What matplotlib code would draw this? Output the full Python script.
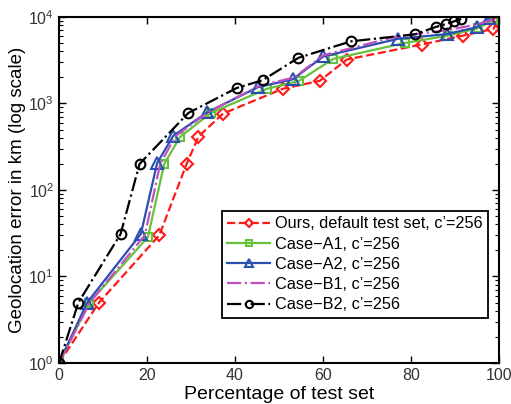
import matplotlib
matplotlib.use("Agg")
import matplotlib.pyplot as plt

plt.rcParams['font.family'] = ['Liberation Sans', 'DejaVu Sans']
plt.rcParams['mathtext.fontset'] = 'custom'
plt.rcParams['mathtext.rm'] = 'Liberation Sans'

# percentage of test set vs geolocation error (km)
ours_x = [0, 9.1, 22.8, 29.0, 31.7, 37.3, 50.8, 59.3, 65.4, 82.4, 91.9, 98.7, 100]
ours_y = [1, 5, 30, 200, 415, 765, 1475, 1830, 3220, 4800, 6100, 7280, 9130]

a1_x = [0, 6.9, 20.2, 23.9, 27.5, 34.5, 47.2, 54.6, 62.3, 78.6, 88.5, 95.3, 98.6]
a1_y = [1, 5, 28.5, 200, 410, 777, 1475, 1830, 3270, 5000, 6100, 7440, 9130]

a2_x = [0, 6.4, 18.6, 22.3, 26.0, 33.7, 45.3, 53.1, 60.1, 77.1, 88.1, 94.9, 97.8]
a2_y = [1, 5, 31, 205, 424, 790, 1550, 1900, 3500, 5600, 6330, 7600, 9700]

b1_x = [0, 7.0, 19.5, 23.0, 26.5, 34.0, 45.5, 53.5, 60.0, 77.0, 88.0, 95.0, 99.0]
b1_y = [1, 5, 30, 200, 420, 800, 1600, 2000, 3600, 6000, 7000, 8200, 9500]

b2_x = [0, 4.4, 14.0, 18.3, 29.4, 40.4, 46.3, 54.4, 66.3, 80.9, 85.7, 88.0, 89.8, 91.4]
b2_y = [1, 5, 31, 200, 777, 1510, 1860, 3370, 5220, 6300, 7680, 8300, 8900, 9500]

fig = plt.figure(figsize=(5.11, 4.04), dpi=100)
ax = fig.add_axes([0.1155, 0.1015, 0.861, 0.8565])

ax.plot(ours_x, ours_y, '--', color='#ff1a1a', lw=1.6, marker='D', ms=6,
        mfc='none', mec='#ff1a1a', mew=1.5, label="Ours, default test set, c\u2019=256")
ax.plot(a1_x, a1_y, '-', color='#66c23a', lw=1.6, marker='s', ms=6,
        mfc='none', mec='#66c23a', mew=1.5, label="Case\u2212A1, c\u2019=256")
ax.plot(a2_x, a2_y, '-', color='#2a4fb0', lw=1.6, marker='^', ms=8,
        mfc='none', mec='#2a4fb0', mew=1.5, label="Case\u2212A2, c\u2019=256")
ax.plot(b1_x, b1_y, '-.', color='#c050c0', lw=1.6, label="Case\u2212B1, c\u2019=256")
ax.plot(b2_x, b2_y, '-.', color='black', lw=1.6, marker='o', ms=7,
        mfc='none', mec='black', mew=1.5, label="Case\u2212B2, c\u2019=256")

ax.set_yscale('log')
ax.set_xlim(0, 100)
ax.set_ylim(1, 1e4)
ax.set_xticks([0, 20, 40, 60, 80, 100])
ax.tick_params(which='both', direction='in', top=True, right=True, labelsize=11.5,
               labelcolor='#333333')
ax.tick_params(which='major', length=5, width=1)
ax.tick_params(which='minor', length=3, width=0.8)
for s in ax.spines.values():
    s.set_linewidth(1.5)

ax.set_xlabel("Percentage of test set", fontsize=14, labelpad=2)
ax.set_ylabel("Geolocation error in km (log scale)", fontsize=13.5, labelpad=2)

leg = ax.legend(loc='upper left', bbox_to_anchor=(0.37, 0.44), borderaxespad=0,
                fontsize=11.7, fancybox=False, framealpha=1, edgecolor='black',
                handlelength=2.6, labelspacing=0.32, borderpad=0.35, handletextpad=0.3,
                markerscale=0.75)
leg.get_frame().set_linewidth(1.3)

fig.savefig("out.png", dpi=100)
